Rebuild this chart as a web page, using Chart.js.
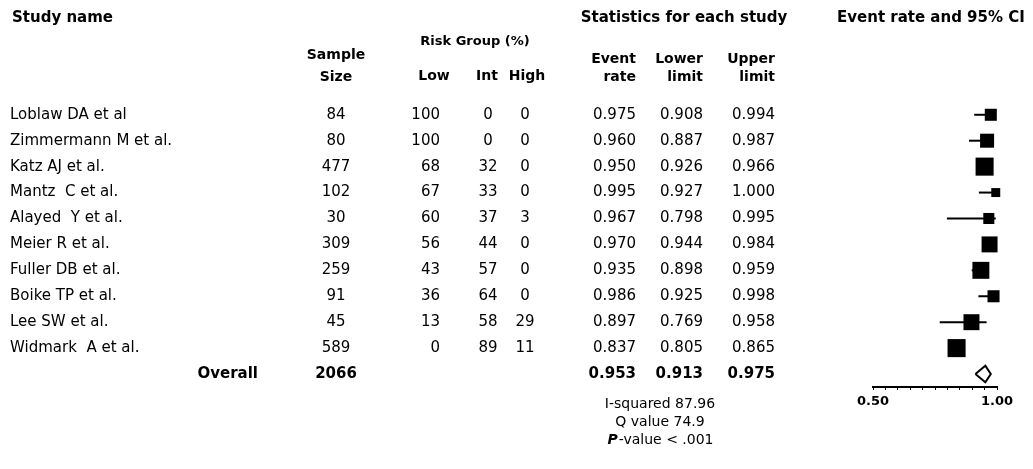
<!DOCTYPE html>
<html>
<head>
<meta charset="utf-8">
<script src="https://cdn.jsdelivr.net/npm/chart.js@4.4.0/dist/chart.umd.min.js"></script>
<style>
  html, body { margin: 0; padding: 0; background: #fff; }
  #wrap { position: relative; width: 1033px; height: 469px; }
</style>
</head>
<body>
<div id="wrap"><canvas id="forest"></canvas></div>
<script>
const studies = ['Loblaw DA et al', 'Zimmermann M et al.', 'Katz AJ et al.', 'Mantz  C et al.', 'Alayed  Y et al.',
                 'Meier R et al.', 'Fuller DB et al.', 'Boike TP et al.', 'Lee SW et al.', 'Widmark  A et al.'];
const sampleSize = [84, 80, 477, 102, 30, 309, 259, 91, 45, 589];
const riskLow  = [100, 100, 68, 67, 60, 56, 43, 36, 13, 0];
const riskInt  = [0, 0, 32, 33, 37, 44, 57, 64, 58, 89];
const riskHigh = [0, 0, 0, 0, 3, 0, 0, 0, 29, 11];
const eventRate  = [0.975, 0.960, 0.950, 0.995, 0.967, 0.970, 0.935, 0.986, 0.897, 0.837];
const lowerLimit = [0.908, 0.887, 0.926, 0.927, 0.798, 0.944, 0.898, 0.925, 0.769, 0.805];
const upperLimit = [0.994, 0.987, 0.966, 1.000, 0.995, 0.984, 0.959, 0.998, 0.958, 0.865];
// relative weight of each study (box size follows it)
const relWeight = [8.6, 10.0, 12.9, 6.4, 7.9, 11.4, 12.1, 8.6, 11.4, 12.9];
const overallN = 2066;
const overallStats = [0.953, 0.913, 0.975];
const heterogeneity = ['I-squared 87.96', 'Q value 74.9', '-value < .001'];
const xTicks = [0.50, 1.00];

const FONT = '"DejaVu Sans"';
const overallRow = studies.length;

// CI whiskers, one small line per study
const whiskers = studies.map((s, i) => ({
    type: 'line',
    data: [{x: lowerLimit[i], y: i}, {x: upperLimit[i], y: i}],
    borderColor: '#000',
    borderWidth: 2,
    pointRadius: 0,
    clip: false
}));

const boxes = {
    type: 'scatter',
    data: eventRate.map((v, i) => ({x: v, y: i})),
    pointStyle: 'rect',
    pointRadius: relWeight.map(w => w * 1.4 / Math.SQRT2),
    backgroundColor: '#000',
    borderWidth: 0,
    clip: false
};

const dh = 0.32;
const diamond = {
    type: 'line',
    data: [
        {x: overallStats[1], y: overallRow},
        {x: overallStats[0], y: overallRow - dh},
        {x: overallStats[2], y: overallRow},
        {x: overallStats[0], y: overallRow + dh},
        {x: overallStats[1], y: overallRow}
    ],
    borderColor: '#000',
    borderWidth: 2,
    pointRadius: 0,
    fill: false,
    tension: 0,
    clip: false
};

function txt(ctx, s, x, y, align, font) {
    ctx.font = font;
    ctx.textAlign = align;
    ctx.fillText(s, x, y);
}

const tablePlugin = {
    id: 'tableText',
    afterDraw(chart) {
        const ctx = chart.ctx;
        const ys = chart.scales.y;
        const hb = 'bold 15px ' + FONT;
        const hb14 = 'bold 14px ' + FONT;
        const hb13 = 'bold 13px ' + FONT;
        const reg = '15px ' + FONT;
        ctx.save();
        ctx.fillStyle = '#000';
        ctx.textBaseline = 'middle';

        // headers
        txt(ctx, 'Study name', 12, 18, 'left', hb);
        txt(ctx, 'Statistics for each study', 684, 18, 'center', hb);
        txt(ctx, 'Event rate and 95% CI', 837, 18, 'left', hb);
        txt(ctx, 'Risk Group (%)', 475, 42, 'center', hb13);
        txt(ctx, 'Sample', 336, 55, 'center', hb14);
        txt(ctx, 'Size', 336, 77, 'center', hb14);
        txt(ctx, 'Low', 434, 76, 'center', hb14);
        txt(ctx, 'Int', 487, 76, 'center', hb14);
        txt(ctx, 'High', 527, 76, 'center', hb14);
        txt(ctx, 'Event', 636, 59, 'right', hb14);
        txt(ctx, 'rate', 636, 77, 'right', hb14);
        txt(ctx, 'Lower', 703, 59, 'right', hb14);
        txt(ctx, 'limit', 703, 77, 'right', hb14);
        txt(ctx, 'Upper', 775, 59, 'right', hb14);
        txt(ctx, 'limit', 775, 77, 'right', hb14);

        // study rows
        studies.forEach((name, i) => {
            const y = ys.getPixelForValue(i);
            txt(ctx, name, 10, y, 'left', reg);
            txt(ctx, String(sampleSize[i]), 336, y, 'center', reg);
            txt(ctx, String(riskLow[i]), 440, y, 'right', reg);
            txt(ctx, String(riskInt[i]), 488, y, 'center', reg);
            txt(ctx, String(riskHigh[i]), 525, y, 'center', reg);
            txt(ctx, eventRate[i].toFixed(3), 636, y, 'right', reg);
            txt(ctx, lowerLimit[i].toFixed(3), 703, y, 'right', reg);
            txt(ctx, upperLimit[i].toFixed(3), 775, y, 'right', reg);
        });

        // overall row
        const yo = ys.getPixelForValue(overallRow);
        txt(ctx, 'Overall', 258, yo, 'right', hb);
        txt(ctx, String(overallN), 336, yo, 'center', hb);
        txt(ctx, overallStats[0].toFixed(3), 636, yo, 'right', hb);
        txt(ctx, overallStats[1].toFixed(3), 703, yo, 'right', hb);
        txt(ctx, overallStats[2].toFixed(3), 775, yo, 'right', hb);

        // heterogeneity
        const small = '14px ' + FONT;
        txt(ctx, heterogeneity[0], 660, 404, 'center', small);
        txt(ctx, heterogeneity[1], 660, 422, 'center', small);
        ctx.font = small;
        const w1 = ctx.measureText(heterogeneity[2]).width;
        ctx.font = 'italic bold 14px ' + FONT;
        const w0 = ctx.measureText('P').width;
        const x0 = 660 - (w0 + w1) / 2;
        txt(ctx, 'P', x0, 440, 'left', 'italic bold 14px ' + FONT);
        txt(ctx, heterogeneity[2], x0 + w0 + 1, 440, 'left', small);
        ctx.restore();
    }
};

new Chart(document.getElementById('forest'), {
    type: 'scatter',
    data: { datasets: [...whiskers, boxes, diamond] },
    options: {
        responsive: true,
        maintainAspectRatio: false,
        animation: false,
        events: [],
        layout: { padding: { left: 873, right: 36, top: 37, bottom: 52 } },
        plugins: { legend: { display: false }, tooltip: { enabled: false } },
        scales: {
            x: {
                type: 'linear',
                min: 0.5,
                max: 1.0,
                afterFit(scale) { scale.height = 30; },
                border: { display: true, color: '#000', width: 2 },
                grid: { drawOnChartArea: false, drawTicks: true, tickLength: 3, color: '#000' },
                ticks: {
                    stepSize: 0.05,
                    autoSkip: false,
                    maxRotation: 0,
                    padding: 4,
                    color: '#000',
                    font: { family: FONT, size: 13, weight: 'bold' },
                    callback: v => xTicks.some(t => Math.abs(t - v) < 1e-6) ? v.toFixed(2) : ''
                }
            },
            y: {
                type: 'linear',
                display: false,
                reverse: true,
                min: -3,
                max: overallRow + 0.5
            }
        }
    },
    plugins: [tablePlugin]
});
</script>
</body>
</html>
